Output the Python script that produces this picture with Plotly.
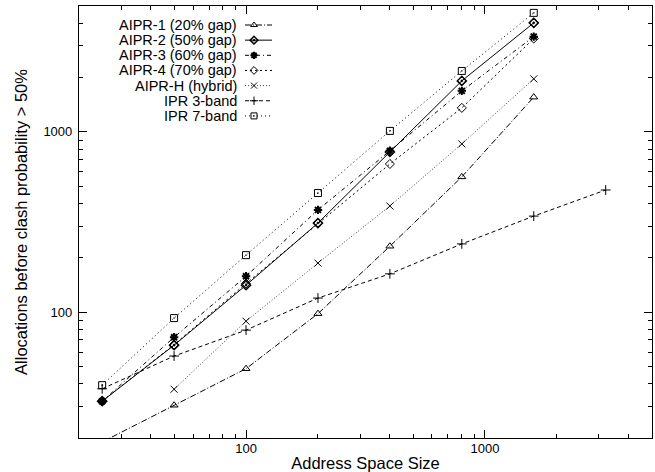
import math
import plotly.graph_objects as go

# ---------------- data ----------------
x_aipr = [25, 50, 100, 200, 400, 800, 1600]
x_h = [50, 100, 200, 400, 800, 1600]
x_ipr3 = [25, 50, 100, 200, 400, 800, 1600, 3200]
x_ipr7 = [25, 50, 100, 200, 400, 800, 1600]

aipr1 = [19, 30.4, 48.5, 98, 232, 563, 1560]
aipr2 = [32, 65.5, 141, 312, 774, 1920, 4030]
aipr3 = [32, 72.5, 158, 369, 785, 1690, 3380]
aipr4 = [32, 66, 144, 310, 664, 1360, 3300]
aiprh = [37.3, 89, 187, 388, 858, 1970]
ipr3 = [37.5, 57, 79.4, 119.6, 163, 239, 341, 476]
ipr7 = [39.3, 92.6, 207, 458, 1013, 2180, 4580]

names = ["AIPR-1 (20% gap)", "AIPR-2 (50% gap)", "AIPR-3 (60% gap)",
         "AIPR-4 (70% gap)", "AIPR-H (hybrid)", "IPR 3-band", "IPR 7-band"]
xs = [x_aipr, x_aipr, x_aipr, x_aipr, x_h, x_ipr3, x_ipr7]
ys = [aipr1, aipr2, aipr3, aipr4, aiprh, ipr3, ipr7]

major_ticks = [100, 1000]
major_text = ["100", "1000"]
minor_ticks = [20, 30, 40, 50, 60, 70, 80, 90, 200, 300, 400, 500, 600, 700, 800, 900,
               2000, 3000, 4000, 5000]

x_title = "Address Space Size"
y_title = "Allocations before clash probability > 50%"

# ---------------- styles ----------------
styles = [
    dict(symbol="triangle-up-open", dash="6px,2px,1px,2px", color="black", mlw=1, size=7),
    dict(symbol="diamond-open-dot", dash="solid", color="black", mlw=1.5, size=7),
    dict(symbol="asterisk-open", dash="4px,3px,1px,3px", color="black", mlw=2, size=7),
    dict(symbol="diamond-open", dash="2px,3px", color="black", mlw=1, size=7),
    dict(symbol="x-thin-open", dash="1px,2px", color="#444444", mlw=1, size=7),
    dict(symbol="cross-thin-open", dash="4px,3px", color="black", mlw=1, size=7),
    dict(symbol="square-open-dot", dash="1px,3px", color="black", mlw=1, size=7),
]

FONT = "Liberation Sans, Arial, Helvetica, sans-serif"
W, H = 655, 472
ML, MR, MT, MB = 79, 3, 6, 34
PW, PH = W - ML - MR, H - MT - MB

fig = go.Figure()
for n, x, y, s in zip(names, xs, ys, styles):
    fig.add_trace(go.Scatter(
        x=x, y=y, name=n, mode="lines+markers", showlegend=False,
        line=dict(color=s["color"], width=1, dash=s["dash"]),
        marker=dict(symbol=s["symbol"], size=s["size"], color="black",
                    line=dict(color="black", width=s["mlw"])),
        xaxis="x", yaxis="y", cliponaxis=True,
    ))

# ---------------- custom gnuplot-style key (text right, sample after) ----------------
key_text_right = 160
key_line = (166, 193)
key_marker = 175
key_row0, key_dy = 19, 15.15
annotations = []
for i, (n, s) in enumerate(zip(names, styles)):
    ry = key_row0 + key_dy * i
    fig.add_trace(go.Scatter(
        x=list(key_line), y=[ry, ry], mode="lines", showlegend=False, hoverinfo="skip",
        line=dict(color=s["color"], width=1, dash=s["dash"]), xaxis="x2", yaxis="y2"))
    fig.add_trace(go.Scatter(
        x=[key_marker], y=[ry], mode="markers", showlegend=False, hoverinfo="skip",
        marker=dict(symbol=s["symbol"], size=s["size"] - 1, color="black",
                    line=dict(color="black", width=s["mlw"])), xaxis="x2", yaxis="y2"))
    annotations.append(dict(
        x=key_text_right, y=ry, xref="x2", yref="y2", text=n, showarrow=False,
        xanchor="right", yanchor="middle", font=dict(family=FONT, size=14.5, color="black")))

axis_common = dict(
    type="log", showline=True, linecolor="black", linewidth=1.2, mirror="ticks",
    ticks="inside", ticklen=8, tickwidth=1, tickcolor="black",
    showgrid=False, zeroline=False, tickmode="array",
    tickvals=major_ticks, ticktext=major_text,
    tickfont=dict(family=FONT, size=13, color="black"),
    minor=dict(tickmode="array", tickvals=minor_ticks, ticks="inside", ticklen=4,
               tickwidth=1, tickcolor="black", showgrid=False),
)

fig.update_layout(
    width=W, height=H,
    margin=dict(l=ML, r=MR, t=MT, b=MB, autoexpand=False),
    paper_bgcolor="white", plot_bgcolor="white",
    font=dict(family=FONT, color="black"),
    xaxis=dict(axis_common, range=[math.log10(20), math.log10(5000)], automargin=False,
               title=dict(text=x_title, font=dict(family=FONT, size=16.5), standoff=4),
               ticklabelstandoff=-2),
    yaxis=dict(axis_common, range=[math.log10(20), math.log10(5000)], automargin=False,
               title=dict(text=y_title, font=dict(family=FONT, size=16.5), standoff=11),
               ticklabelstandoff=3),
    xaxis2=dict(overlaying="x", anchor="y2", range=[0, PW], visible=False, fixedrange=True),
    yaxis2=dict(overlaying="y", anchor="x2", range=[PH, 0], visible=False, fixedrange=True),
    annotations=annotations,
    showlegend=False,
)

fig.write_html("out.html", config={"displayModeBar": False},
               post_script="document.body.style.margin='0px';document.body.style.overflow='hidden';")
